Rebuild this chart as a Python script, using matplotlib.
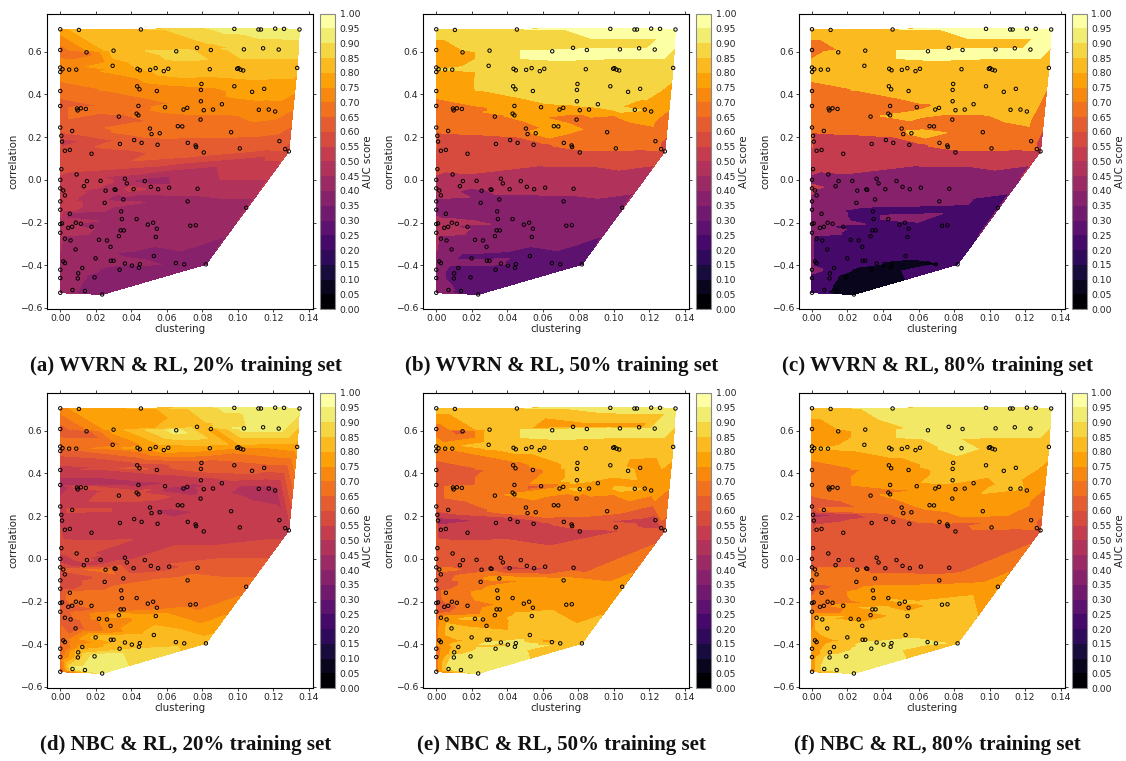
import numpy as np
import matplotlib
matplotlib.use("Agg")
import matplotlib.pyplot as plt
from matplotlib.cm import ScalarMappable
from matplotlib.colors import Normalize

clustering = [
 0,.0105,.0454,.098,.1116,.113,.121,.126,.1347,
 0,.0148,.030,.0653,.077,.0848,.1034,.1142,.123,
 0,0,.0013,.005,.009,.0295,.0435,.0448,.0506,.0537,.0583,.0608,.0842,.0996,.1003,.1015,.103,.1334,
 0,.0433,.0446,.0544,.0795,.0792,.098,.108,.1148,
 0,.0094,.0098,.0116,.0144,.033,.043,.044,.044,.059,.0694,.0715,.0792,.0808,.086,.091,.1118,.1174,.121,
 0,.0067,.0006,.001,.0026,.0054,.0176,.0336,.0416,.0458,.0505,.0514,.056,.0548,.0662,.0687,.079,.0718,.0762,.0765,.0808,.0962,.1011,.1234,.1266,.1287,
 .0006,.0092,0,.015,.0133,0,.0017,.0026,.0227,.0255,.0306,.0311,.0364,.0375,.0413,.0476,.051,.0551,.0613,.0773,.0355,.025,.0717,0,0,.0054,.1047,
 .0343,.0347,.043,0,.001,.0088,.0116,.0045,.0067,.0176,.0493,.0523,.0544,.0732,.0763,.034,.0358,
 0,.0026,.0058,.0218,.0263,.033,.0538,.0283,.0086,
 .0017,.0026,.0199,.0285,.03,.0527,.0364,.0403,.0448,.0443,.0334,.0651,.0698,.082,.0124,0,.0101,.0099,0,.0193,.0069,.0139,0,.0236]
correlation = [
 .705,.702,.704,.707,.704,.704,.708,.707,.704,
 .608,.597,.605,.602,.618,.608,.611,.616,.61,
 .526,.505,.518,.516,.516,.534,.52,.513,.515,.523,.509,.52,.518,.52,.523,.516,.512,.524,
 .416,.438,.424,.416,.449,.421,.438,.412,.426,
 .346,.334,.325,.335,.332,.296,.31,.302,.346,.34,.329,.337,.368,.326,.329,.354,.328,.329,.32,
 .245,.229,.206,.179,.136,.14,.122,.168,.186,.173,.24,.214,.218,.164,.251,.25,.282,.173,.161,.153,.128,.223,.147,.181,.144,.133,
 .05,.025,0,-.006,-.03,-.04,-.05,-.073,-.005,-.051,-.045,-.047,.005,-.017,-.044,-.006,-.033,-.044,-.037,-.042,-.092,-.108,-.101,-.101,-.14,-.159,-.131,
 -.148,-.184,-.184,-.207,-.204,-.201,-.206,-.225,-.22,-.22,-.21,-.201,-.229,-.215,-.213,-.237,-.237,
 -.248,-.276,-.284,-.281,-.284,-.264,-.268,-.314,-.326,
 -.382,-.39,-.368,-.379,-.379,-.357,-.392,-.402,-.395,-.412,-.421,-.39,-.396,-.396,-.413,-.421,-.438,-.462,-.46,-.457,-.516,-.521,-.529,-.537]

auc_a = [
 78,81,83,90,91,91,91,91,90,
 67,68,82,87,83,84,88,86,86,
 71,71,72,72,72,76,79,77,80,80,81,81,81,82,82,82,82,80,
 68,73,72,74,77,74,77,76,77,
 64,65,65,66,66,63,69,70,69,72,73,73,72,73,72,73,72,71,71,
 62,61,58,53,58,58,59,61,61,61,65,66,66,63,67,67,67,63,63,63,61,66,63,62,62,60,
 55,54,54,53,51,53,50,52,52,47,48,48,48,47,50,44,48,48,48,49,44,45,42,52,50,44,42,
 42,42,41,46,46,45,43,47,47,42,42,42,42,42,42,42,42,
 46,42,44,42,42,42,42,42,42,
 42,42,42,42,42,38,41,38,40,38,38,38,38,38,41,43,42,42,44,38,42,36,44,39]
auc_b = [
 85,87,88,95,96,96,96,96,96,
 78,78,87,95,88,95,95,88,95,
 78,78,83,83,83,85,86,86,86,86,86,87,87,87,87,87,87,87,
 73,83,83,84,86,85,86,86,84,
 68,68,68,68,68,68,76,77,77,78,80,80,84,78,78,84,84,79,78,
 68,66,58,58,58,58,58,60,62,62,72,72,76,62,77,77,72,66,66,66,62,72,67,67,67,58,
 54,50,48,48,47,47,46,47,47,42,47,47,48,47,47,47,47,47,47,47,42,42,42,42,42,42,38,
 38,38,38,45,45,47,47,48,48,38,38,38,38,36,36,38,38,
 46,40,40,38,38,38,36,36,38,
 38,38,31,36,36,28,38,28,28,28,28,27,27,27,30,38,31,31,38,28,38,27,36,27]
auc_c = [
 82,82,82,96,96,96,96,96,96,
 65,82,82,93,84,96,96,83,96,
 82,81,82,82,82,82,82,82,82,82,82,82,82,82,82,82,82,83,
 69,80,80,82,82,82,82,82,82,
 67,67,67,67,67,67,72,76,67,67,81,81,81,81,81,81,81,81,80,
 68,68,55,53,53,53,53,53,53,53,67,66,78,55,68,68,68,60,60,60,55,68,65,66,66,55,
 46,38,38,36,33,54,35,33,36,33,33,33,36,36,33,36,34,33,33,33,32,32,32,33,33,30,23,
 23,23,31,33,33,33,31,33,33,23,23,23,23,23,23,23,23,
 33,22,22,22,22,22,22,22,22,
 22,22,22,22,22,22,18,10,8,8,10,14,14,22,20,30,22,20,28,8,18,8,26,6]
auc_d = [
 72,77,79,92,92,92,92,92,90,
 62,62,77,92,84,76,92,92,92,
 67,63,67,67,67,68,78,72,79,79,77,78,76,76,76,74,74,76,
 54,60,61,60,62,61,63,64,62,
 48,57,52,57,60,59,58,58,47,52,44,48,51,52,52,52,46,47,47,
 52,58,53,53,52,52,52,52,52,52,52,52,47,52,52,52,52,52,53,53,52,53,52,52,53,53,
 60,56,52,55,52,60,62,58,53,65,62,62,53,55,57,55,57,60,60,61,63,63,67,60,60,65,67,
 67,67,68,61,62,67,67,63,63,66,69,69,69,68,68,69,69,
 62,62,62,73,74,75,76,72,64,
 70,69,82,82,82,84,81,80,81,82,80,81,81,81,78,64,83,84,65,92,92,92,64,92]
auc_e = [
 82,82,83,92,92,92,92,92,92,
 72,62,83,92,78,92,92,77,92,
 76,70,76,76,77,80,83,83,83,83,84,86,86,86,86,86,86,82,
 64,68,70,68,84,84,84,84,78,
 60,65,65,67,65,67,72,78,68,62,78,74,84,80,79,79,82,78,77,
 62,63,52,48,53,53,52,52,55,54,66,65,67,55,72,72,66,63,60,60,53,68,62,53,57,60,
 58,62,62,62,62,62,66,62,62,64,64,64,62,62,55,61,58,57,60,62,73,66,74,58,58,66,73,
 76,76,77,60,60,65,66,64,64,72,77,77,78,78,78,77,77,
 62,73,73,80,78,76,81,75,82,
 77,75,83,82,82,87,88,87,92,92,88,78,87,83,86,72,85,88,72,92,91,92,72,92]
auc_f = [
 82,83,90,92,92,92,92,92,92,
 74,74,83,92,92,92,92,92,92,
 78,78,80,80,80,82,83,84,86,86,87,87,92,87,87,87,87,82,
 68,76,76,78,82,80,82,83,82,
 65,68,68,68,68,67,72,76,74,74,76,76,81,78,78,79,82,80,79,
 62,66,48,52,61,61,62,62,63,63,72,72,72,64,76,76,77,65,62,62,62,76,68,66,66,62,
 62,62,60,60,62,62,68,66,62,67,64,64,62,62,61,62,62,60,62,60,72,70,72,66,64,71,75,
 77,76,77,66,66,71,72,70,72,78,78,80,78,81,81,79,80,
 69,84,80,78,76,77,82,80,83,
 78,77,83,84,84,87,92,91,91,92,92,92,92,86,84,74,82,90,75,92,92,92,74,92]

panels = [auc_a, auc_b, auc_c, auc_d, auc_e, auc_f]
captions = ["(a) WVRN & RL, 20% training set", "(b) WVRN & RL, 50% training set",
            "(c) WVRN & RL, 80% training set", "(d) NBC & RL, 20% training set",
            "(e) NBC & RL, 50% training set", "(f) NBC & RL, 80% training set"]
# band start and width of the filled contours, per panel
band_start = [0, .025, 0, 0, .05, .05]
band_step = [.05, .1, .15, .05, .075, .075]
cb_levels = np.arange(0, 1.0001, 0.05)
ax_lefts = [47.3, 423.3, 799.0]
ax_w = 265.7
cb_off = 273.0
cb_w = 14.5
ax_tops = [13.7, 392.7]
ax_h = 295.5
cap_x = [186, 561.5, 937]
cap_y = [366, 745]
W, H = 1126, 761
norm = Normalize(0.025, 0.975)

fig = plt.figure(figsize=(W/100, H/100), dpi=100)
for i, vals in enumerate(panels):
    r, c = divmod(i, 3)
    l, t = ax_lefts[c], ax_tops[r]
    ax = fig.add_axes([l/W, 1-(t+ax_h)/H, ax_w/W, ax_h/H])
    levels = np.arange(band_start[i], 1.05 + band_step[i]/2, band_step[i])
    v = np.array(vals)/100
    idx = np.digitize(v, levels) - 1
    z = (levels[idx] + levels[idx+1])/2
    ax.tricontourf(clustering, correlation, z, levels=levels, cmap="inferno", norm=norm)
    ax.scatter(clustering, correlation, s=6, facecolors="none", edgecolors="black", linewidths=0.7, zorder=3)
    ax.set_xlim(-.0073, .1423)
    ax.set_ylim(-.606, .778)
    ax.set_xticks(np.arange(0, .141, .02))
    ax.set_yticks(np.arange(-.6, .61, .2))
    ax.tick_params(labelsize=6.7, length=2, width=.6, top=True, right=True, pad=1.5, colors="#222222")
    ax.set_xlabel("clustering", fontsize=7.4, labelpad=1, color="#222222")
    ax.set_ylabel("correlation", fontsize=7.4, labelpad=1, color="#222222")
    for s in ax.spines.values():
        s.set_linewidth(.8)
    cax = fig.add_axes([(l+cb_off)/W, 1-(t+ax_h)/H, cb_w/W, ax_h/H])
    sm = ScalarMappable(norm=norm, cmap="inferno")
    cb = fig.colorbar(sm, cax=cax, boundaries=cb_levels, values=(cb_levels[:-1]+cb_levels[1:])/2,
                      ticks=cb_levels, format="%.2f", spacing="uniform")
    cb.ax.tick_params(labelsize=6.7, length=0, pad=3.5, colors="#222222")
    cb.set_label("AUC score", fontsize=7.4, labelpad=2, color="#222222")
    cb.outline.set_edgecolor("#888888")
    cb.outline.set_linewidth(.8)
    fig.text(cap_x[c]/W, 1-cap_y[r]/H, captions[i], ha="center", va="center",
             family="Liberation Serif", weight="bold", fontsize=15.1, color="#111111")
fig.savefig("out.png", dpi=100)
